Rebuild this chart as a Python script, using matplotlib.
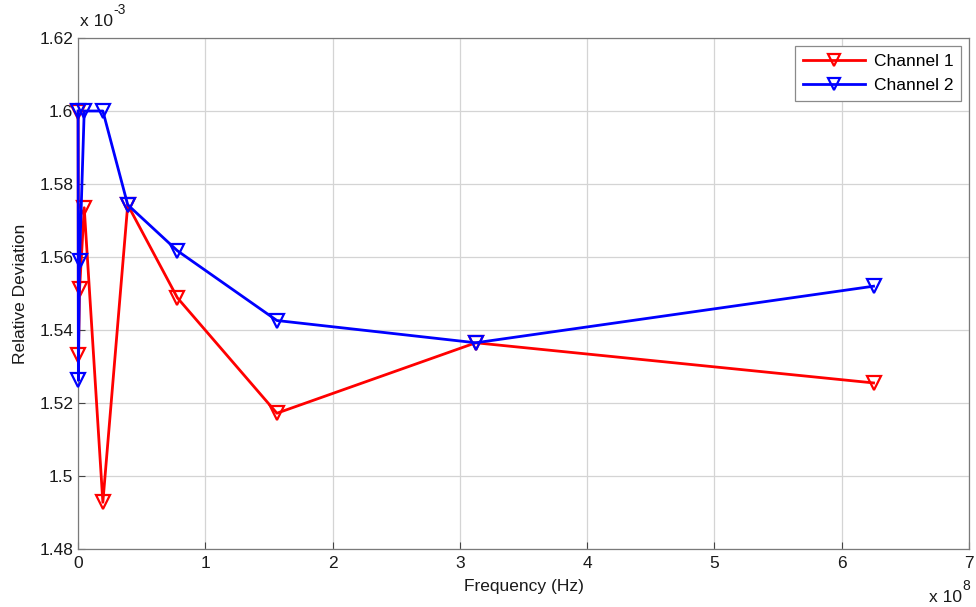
import numpy as np
import matplotlib
matplotlib.use("Agg")
import matplotlib.pyplot as plt

plt.rcParams['font.family'] = ['Liberation Sans', 'DejaVu Sans']

# Frequencies (Hz) and relative deviation for both channels
freq = [625e6, 312.5e6, 156.25e6, 78.125e6, 39.0625e6, 19.53125e6,
        4.8828125e6, 1.220703125e6, 0.30517578125e6, 0.0762939453125e6]
channel1 = [1.5255e-3, 1.5365e-3, 1.5172e-3, 1.5488e-3, 1.5743e-3, 1.4928e-3,
            1.5735e-3, 1.5512e-3, 1.5332e-3, 1.5997e-3]
channel2 = [1.5520e-3, 1.5365e-3, 1.5426e-3, 1.5617e-3, 1.5743e-3, 1.6000e-3,
            1.6000e-3, 1.5590e-3, 1.5262e-3, 1.6000e-3]

xscale = 1e8
yscale = 1e-3

fig = plt.figure(figsize=(9.76, 6.07), dpi=100)
ax = fig.add_axes([78 / 976, 1 - 549 / 607, 891 / 976, 511 / 607])

x = np.array(freq) / xscale
ax.plot(x, np.array(channel1) / yscale, color='#ff0000', lw=2, marker='v',
        ms=10.5, mfc='none', mew=1.6, label='Channel 1', zorder=3, clip_on=False)
ax.plot(x, np.array(channel2) / yscale, color='#0000ff', lw=2, marker='v',
        ms=10.5, mfc='none', mew=1.6, label='Channel 2', zorder=4, clip_on=False)

ax.set_xlim(0, 7)
ax.set_ylim(1.48, 1.62)
ax.set_xticks(np.arange(0, 8, 1))
yt = [1.48, 1.5, 1.52, 1.54, 1.56, 1.58, 1.6, 1.62]
ax.set_yticks(yt)
ax.set_yticklabels(['%g' % v for v in yt])
ax.grid(True, color='#d4d4d4', lw=0.9)
ax.set_axisbelow(True)
ax.tick_params(direction='in', labelsize=12.5, colors='#444444',
               labelcolor='#1a1a1a', length=5)
ax.tick_params(axis='x', pad=5)
for s in ax.spines.values():
    s.set_color('#7a7a7a')
    s.set_linewidth(0.9)

ax.set_xlabel('Frequency (Hz)', fontsize=12.5, color='#1a1a1a', labelpad=6)
ax.set_ylabel('Relative Deviation', fontsize=12.5, color='#1a1a1a', labelpad=8)

# exponent labels in MATLAB style
fig.text(80 / 976, 1 - 21 / 607, 'x 10', fontsize=12.5,
         color='#1a1a1a', va='center', ha='left')
fig.text(113 / 976, 1 - 10 / 607, '-3', fontsize=10,
         color='#1a1a1a', va='center', ha='left')
fig.text(929 / 976, 1 - 597 / 607, 'x 10', fontsize=12.5,
         color='#1a1a1a', va='center', ha='left')
fig.text(962 / 976, 1 - 586 / 607, '8', fontsize=10,
         color='#1a1a1a', va='center', ha='left')

leg = ax.legend(loc='upper right', fontsize=12.5, numpoints=1, fancybox=False,
                framealpha=1, edgecolor='#8a8a8a', handlelength=3.6,
                borderaxespad=0.45, borderpad=0.45, labelspacing=0.55,
                handletextpad=0.5)
leg.get_frame().set_linewidth(0.9)
for h in leg.legend_handles:
    h.set_markersize(9)

fig.savefig('out.png', dpi=100, facecolor='white')
